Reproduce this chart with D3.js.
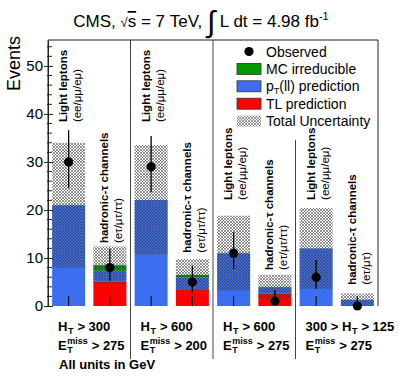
<!DOCTYPE html>
<html>
<head>
<meta charset="utf-8">
<script src="https://cdn.jsdelivr.net/npm/d3@7"></script>
<style>
  body { margin: 0; background: #fff; }
  text { font-family: "Liberation Sans", Arial, Helvetica, sans-serif; }
</style>
</head>
<body>
<svg id="chart" width="399" height="383"></svg>
<script>
// ---- data ----
const channels = ["Light leptons", "hadronic-τ channels", "Light leptons", "hadronic-τ channels",
                  "Light leptons", "hadronic-τ channels", "Light leptons", "hadronic-τ channels"];
const flavours = ["(ee/μμ/eμ)", "(eτ/μτ/ττ)", "(ee/μμ/eμ)", "(eτ/μτ/ττ)",
                  "(ee/μμ/eμ)", "(eτ/μτ/ττ)", "(ee/μμ/eμ)", "(eτ/μτ)"];
const tlPrediction   = [0, 5.1, 0, 3.5, 0, 2.6, 0, 0];
const ptllPrediction = [21, 2.25, 22.1, 2.4, 11, 1.3, 12, 1.3];
const mcIrreducible  = [0, 1.15, 0, 0.6, 0, 0.1, 0, 0];
const totalUncert    = [13, 3.9, 11.4, 3.3, 7.8, 2.5, 8.4, 1.3];
const observed       = [30, 8, 29, 5, 11, 1, 6, 0];
const obsErrLow      = [5.4, 2.8, 5.3, 2.2, 3.3, 0.8, 2.4, 0];
const obsErrHigh     = [6.6, 3.9, 6.4, 3.4, 4.4, 2.3, 3.6, 1.8];
const labelBase      = [38.3, 13.1, 38.3, 11.1, 22.1, 7.5, 22.1, 4.4]; // where the rotated text starts
const htPrefix  = ["", "", "", "300 > "];
const htCut     = ["> 300", "> 600", "> 600", "> 125"];
const metCut    = ["> 275", "> 200", "> 275", "> 275"];
const yMajor    = [0, 10, 20, 30, 40, 50];

const colors = { tl: "#ff0000", ptll: "#3c6ff0", mc: "#009900" };
const nb = "\u00a0";

const svg = d3.select("#chart");
const x = d3.scaleLinear().domain([0, 8]).range([48, 378]);
const y = d3.scaleLinear().domain([0, 55.4]).range([306, 40]);
const bw = x(0.8) - x(0);

// hatch for total uncertainty
const pat = svg.append("defs").append("pattern")
  .attr("id", "hatch").attr("patternUnits", "userSpaceOnUse")
  .attr("width", 3).attr("height", 3);
pat.append("path").attr("d", "M0,0L3,3M3,0L0,3M-1,2L1,4M2,-1L4,1")
  .attr("stroke", "#3a3a3a").attr("stroke-width", 0.55).attr("fill", "none");

// stacked bars
const stack = observed.map((_, i) => {
  const a = tlPrediction[i], b = a + ptllPrediction[i], c = b + mcIrreducible[i];
  return [
    { i, lo: 0, hi: a, col: colors.tl },
    { i, lo: a, hi: b, col: colors.ptll },
    { i, lo: b, hi: c, col: colors.mc }
  ].filter(s => s.hi > s.lo);
}).flat();

svg.append("g").selectAll("rect").data(stack).join("rect")
  .attr("x", d => x(d.i + 0.1)).attr("width", bw)
  .attr("y", d => y(d.hi)).attr("height", d => y(d.lo) - y(d.hi))
  .attr("fill", d => d.col);

// uncertainty band
const total = i => tlPrediction[i] + ptllPrediction[i] + mcIrreducible[i];
svg.append("g").selectAll("rect").data(observed).join("rect")
  .attr("x", (d, i) => x(i + 0.1)).attr("width", bw)
  .attr("y", (d, i) => y(total(i) + totalUncert[i]))
  .attr("height", (d, i) => y(Math.max(0, total(i) - totalUncert[i])) - y(total(i) + totalUncert[i]))
  .attr("fill", "url(#hatch)");

// group separators
const sepTop = [55.4, 55.4, 34.6];
svg.append("g").selectAll("line").data([2, 4, 6]).join("line")
  .attr("x1", d => x(d)).attr("x2", d => x(d))
  .attr("y1", (d, i) => y(sepTop[i])).attr("y2", 359)
  .attr("stroke", "#444").attr("stroke-width", 1);

// frame
svg.append("path")
  .attr("d", `M${x(0)},${y(0)}V${y(55.4)}H${x(8)}V${y(0)}`)
  .attr("fill", "none").attr("stroke", "#222").attr("stroke-width", 1);

// y axis
const yAxis = svg.append("g").attr("transform", `translate(${x(0)},0)`)
  .call(d3.axisLeft(y).tickValues(yMajor).tickSize(0).tickPadding(5).tickFormat(d3.format("d")))
  .call(g => g.select(".domain").attr("stroke", "#222"))
  .call(g => g.selectAll("text").attr("font-size", 15).attr("fill", "#000")
    .attr("font-family", '"Liberation Sans", Arial, sans-serif'));
yAxis.selectAll(".tick").append("line")
  .attr("x1", -4).attr("x2", 5).attr("stroke", "#222");
const yMinor = d3.range(0, 55.4, 2).filter(v => v % 10 !== 0);
svg.append("g").selectAll("line").data(yMinor).join("line")
  .attr("x1", x(0) - 1).attr("x2", x(0) + 4)
  .attr("y1", d => y(d)).attr("y2", d => y(d)).attr("stroke", "#222");

// x ticks at bin centres
svg.append("g").selectAll("line").data(observed).join("line")
  .attr("x1", (d, i) => x(i + 0.5)).attr("x2", (d, i) => x(i + 0.5))
  .attr("y1", y(0)).attr("y2", y(0) - 10).attr("stroke", "#000");

// observed points
const obs = svg.append("g");
obs.selectAll("line").data(observed).join("line")
  .attr("x1", (d, i) => x(i + 0.5)).attr("x2", (d, i) => x(i + 0.5))
  .attr("y1", (d, i) => y(d - obsErrLow[i])).attr("y2", (d, i) => y(d + obsErrHigh[i]))
  .attr("stroke", "#000").attr("stroke-width", 1.3);
obs.selectAll("circle").data(observed).join("circle")
  .attr("cx", (d, i) => x(i + 0.5)).attr("cy", d => y(d)).attr("r", 4.6).attr("fill", "#000");

// rotated channel labels
const lab = svg.append("g").selectAll("g").data(channels).join("g")
  .attr("transform", (d, i) => `translate(${x(i + 0.5)},${y(labelBase[i])}) rotate(-90)`);
lab.append("text").attr("y", -1.5).attr("font-size", 11.5).attr("font-weight", "bold")
  .text(d => d);
lab.append("text").attr("y", 12.5).attr("font-size", 11.5)
  .text((d, i) => flavours[i]);

// title
const title = svg.append("text").attr("x", 201).attr("y", 27)
  .attr("text-anchor", "middle").attr("font-size", 17);
title.append("tspan").text("CMS," + nb);
title.append("tspan").attr("font-size", 13).text("√");
title.append("tspan").style("text-decoration", "overline").text("s");
title.append("tspan").text(nb + "=" + nb + "7" + nb + "TeV," + nb);
title.append("tspan").attr("font-size", 30).attr("dy", 5)
  .attr("font-family", '"DejaVu Sans", sans-serif').attr("font-weight", 200).text("∫");
title.append("tspan").attr("dy", -5).text(nb + "L dt = 4.98 fb");
title.append("tspan").attr("font-size", 11).attr("dy", -7).text("-1");

// y title
svg.append("text").attr("transform", "translate(20,36) rotate(-90)")
  .attr("text-anchor", "end").attr("font-size", 18).text("Events");

// region labels under the axis
function subsup(g, x0, base, main, sup, sub, rest) {
  const t = g.append("text").attr("x", x0).attr("y", base)
    .attr("font-size", 13).attr("font-weight", "bold").text(main);
  const w = t.node().getComputedTextLength();
  let w2 = 0;
  if (sup) {
    const s = g.append("text").attr("x", x0 + w + 0.5).attr("y", base - 6)
      .attr("font-size", 9).attr("font-weight", "bold").text(sup);
    w2 = Math.max(w2, s.node().getComputedTextLength());
  }
  const b = g.append("text").attr("x", x0 + w + 0.5).attr("y", base + 3)
    .attr("font-size", 9).attr("font-weight", "bold").text(sub);
  w2 = Math.max(w2, b.node().getComputedTextLength());
  g.append("text").attr("x", x0 + w + w2 + 4.5).attr("y", base)
    .attr("font-size", 13).attr("font-weight", "bold").text(rest);
}
const regions = svg.append("g");
htCut.forEach((c, k) => {
  const x0 = x(2 * k) + 10;
  subsup(regions, x0, 331, htPrefix[k].replace(/ /g, nb) + "H", null, "T", c.replace(/ /g, nb));
  subsup(regions, x0, 350, "E", "miss", "T", metCut[k].replace(/ /g, nb));
});
regions.append("text").attr("x", x(0) + 11).attr("y", 369)
  .attr("font-size", 13).attr("font-weight", "bold").text("All units in GeV");

// legend
const legendItems = ["Observed", "MC irreducible", "pT(ll) prediction", "TL prediction", "Total Uncertainty"];
const legendFill = [null, colors.mc, colors.ptll, colors.tl, "url(#hatch)"];
const leg = svg.append("g").selectAll("g").data(legendItems).join("g")
  .attr("transform", (d, i) => `translate(237,${51.5 + i * 17.4})`);
leg.filter((d, i) => i === 0).append("circle").attr("cx", 12).attr("r", 4.6).attr("fill", "#000");
leg.filter((d, i) => i > 0).append("rect")
  .attr("x", 0).attr("y", -5.5).attr("width", 24).attr("height", 11)
  .attr("fill", (d, i) => legendFill[i + 1])
  .attr("stroke", (d, i) => i === 3 ? "none" : "#333").attr("stroke-width", 0.8);
leg.each(function (d, i) {
  const t = d3.select(this).append("text").attr("x", 29).attr("y", 5).attr("font-size", 14);
  if (i === 2) {
    t.append("tspan").text("p");
    t.append("tspan").attr("font-size", 9).attr("dy", 3).text("T");
    t.append("tspan").attr("dy", -3).text("(ll) prediction");
  } else {
    t.text(d);
  }
});
</script>
</body>
</html>
